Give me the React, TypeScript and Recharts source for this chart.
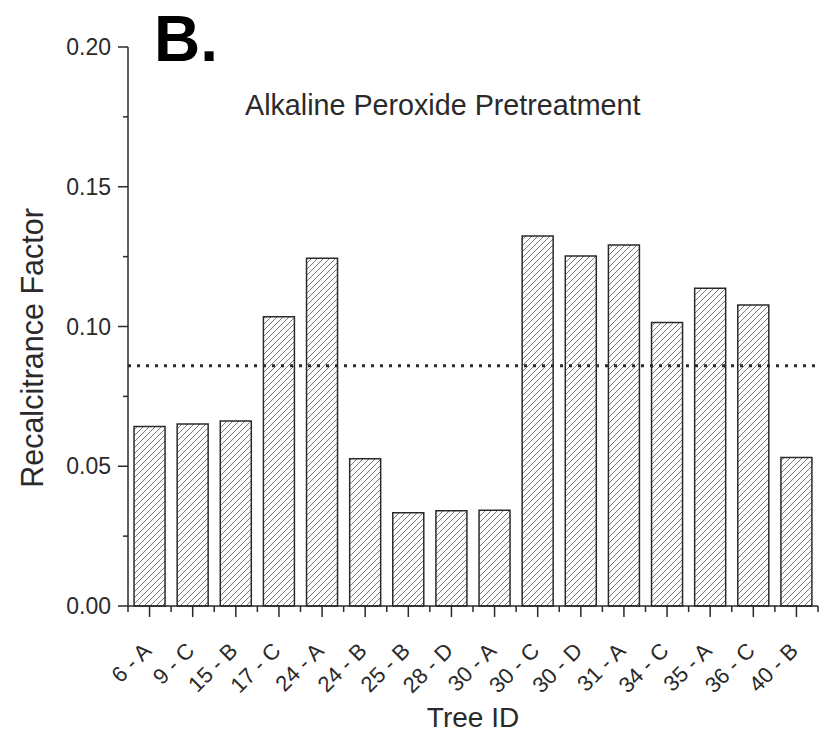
import { BarChart, Bar, XAxis, YAxis, ReferenceLine } from "recharts";

const treeIds = [
  "6 - A", "9 - C", "15 - B", "17 - C", "24 - A", "24 - B", "25 - B", "28 - D",
  "30 - A", "30 - C", "30 - D", "31 - A", "34 - C", "35 - A", "36 - C", "40 - B",
];
const recalcitrance = [
  0.0642, 0.0651, 0.0662, 0.1035, 0.1244, 0.0527, 0.0334, 0.0341,
  0.0343, 0.1324, 0.1252, 0.1292, 0.1014, 0.1137, 0.1077, 0.0531,
];
const yTicks = [0, 0.025, 0.05, 0.075, 0.1, 0.125, 0.15, 0.175, 0.2];
const meanLine = 0.086;

const W = 825;
const H = 736;
const MARGIN = { top: 47, right: 7, bottom: 30, left: 48 };
const Y_AXIS_W = 80;
const BAND = (W - MARGIN.left - Y_AXIS_W - MARGIN.right) / treeIds.length;

const FONT = "'Liberation Sans', Arial, Helvetica, sans-serif";
const INK = "#2a2a2a";

const data = treeIds.map((name, i) => ({ name, value: recalcitrance[i] }));

function YTick({ x, y, payload }: any) {
  const v = payload.value as number;
  const major = Math.abs(v / 0.05 - Math.round(v / 0.05)) < 1e-6;
  return (
    <g>
      <line x1={x - (major ? 10 : 5)} x2={x} y1={y} y2={y} stroke={INK} strokeWidth={1.5} />
      {major && (
        <text x={x - 17} y={y + 8} textAnchor="end" fontSize={23} fill={INK} fontFamily={FONT}>
          {v.toFixed(2)}
        </text>
      )}
    </g>
  );
}

function XTick({ x, y, payload, index }: any) {
  const ax = x + 3;
  const ay = y + 46;
  const last = index === treeIds.length - 1;
  return (
    <g>
      <line x1={x} x2={x} y1={y} y2={y + 11} stroke={INK} strokeWidth={1.5} />
      <line x1={x - BAND / 2} x2={x - BAND / 2} y1={y} y2={y + 6} stroke={INK} strokeWidth={1.5} />
      {last && (
        <line x1={x + BAND / 2} x2={x + BAND / 2} y1={y} y2={y + 6} stroke={INK} strokeWidth={1.5} />
      )}
      <text
        x={ax}
        y={ay}
        textAnchor="end"
        fontSize={22}
        fill={INK}
        fontFamily={FONT}
        transform={`rotate(-45, ${ax}, ${ay})`}
      >
        {payload.value}
      </text>
    </g>
  );
}

const YTitle = () => (
  <text
    x={43}
    y={348}
    transform="rotate(-90, 43, 348)"
    textAnchor="middle"
    fontSize={30.5}
    fill={INK}
    fontFamily={FONT}
  >
    Recalcitrance Factor
  </text>
);

const XTitle = () => (
  <text x={473} y={727} textAnchor="middle" fontSize={28} fill={INK} fontFamily={FONT}>
    Tree ID
  </text>
);

export default function App() {
  return (
    <div style={{ position: "absolute", left: 0, top: 0, width: W, height: H, background: "#fff" }}>
      <BarChart width={W} height={H} data={data} margin={MARGIN} barCategoryGap="14%">
        <defs>
          <pattern id="hatch" patternUnits="userSpaceOnUse" width="6" height="6">
            <rect width="6" height="6" fill="#fff" />
            <path d="M-1,1 l2,-2 M0,6 l6,-6 M5,7 l2,-2" stroke="#7a7a7a" strokeWidth="1" />
          </pattern>
        </defs>
        <XAxis
          dataKey="name"
          interval={0}
          height={100}
          tickSize={0}
          tickMargin={0}
          tickLine={false}
          tick={<XTick />}
          axisLine={{ stroke: INK, strokeWidth: 1.5 }}
          label={<XTitle />}
        />
        <YAxis
          width={Y_AXIS_W}
          domain={[0, 0.2]}
          ticks={yTicks}
          interval={0}
          tickSize={0}
          tickMargin={0}
          tickLine={false}
          tick={<YTick />}
          axisLine={{ stroke: INK, strokeWidth: 1.5 }}
          label={<YTitle />}
        />
        <Bar
          dataKey="value"
          fill="url(#hatch)"
          stroke={INK}
          strokeWidth={1.5}
          isAnimationActive={false}
        />
        <ReferenceLine
          y={meanLine}
          stroke={INK}
          strokeWidth={3}
          strokeDasharray="3 6"
          ifOverflow="extendDomain"
        />
      </BarChart>
      <svg
        width={W}
        height={H}
        style={{ position: "absolute", left: 0, top: 0, pointerEvents: "none" }}
      >
        <text x={154} y={61} fontSize={64} fontWeight="bold" fill="#000" fontFamily={FONT}>
          B.
        </text>
        <text x={245} y={115} fontSize={28.7} fill={INK} fontFamily={FONT}>
          Alkaline Peroxide Pretreatment
        </text>
      </svg>
    </div>
  );
}
